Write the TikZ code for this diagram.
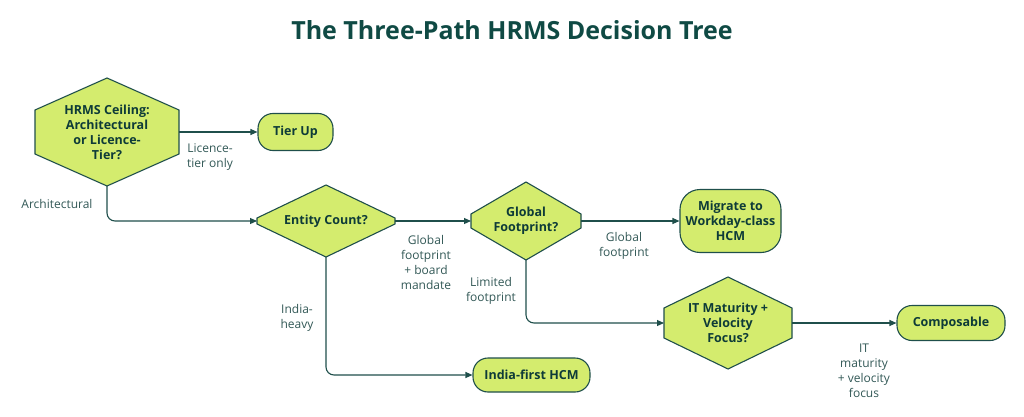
\documentclass[tikz,border=0pt]{standalone}
\usepackage{fontspec}
\setmainfont{Open Sans}
\usetikzlibrary{arrows.meta}
\definecolor{fillc}{HTML}{D4EC6E}
\definecolor{linec}{HTML}{1F4F4B}
\definecolor{txtc}{HTML}{0E3B38}
\definecolor{titlec}{HTML}{0F4A44}
\tikzset{
  shp/.style={draw=linec,fill=fillc,line width=1.1pt},
  ntext/.style={text=txtc,font=\fontsize{12.5}{15}\selectfont\bfseries,align=center},
  lab/.style={text=txtc!85,font=\fontsize{12}{15}\selectfont,align=center},
  conn/.style={draw=linec,line width=1.1pt,-{Triangle[length=7pt,width=6pt]},rounded corners=8pt},
  pill/.style={shp,rounded corners=15pt,ntext,inner sep=0pt}
}
% hexagon: name, cx, cy, halfw, halfh, side halfh, text
\newcommand{\hexnode}[7]{%
  \draw[shp] (#2-#4,#3-#6) -- (#2-#4,#3+#6) -- (#2,#3+#5) -- (#2+#4,#3+#6) -- (#2+#4,#3-#6) -- (#2,#3-#5) -- cycle;
  \node[ntext] (#1) at (#2,#3) {#7};
  \coordinate (#1-w) at (#2-#4,#3);
  \coordinate (#1-e) at (#2+#4,#3);
  \coordinate (#1-s) at (#2,#3+#5);
}
\begin{document}
\begin{tikzpicture}[x=1pt,y=-1pt]
\useasboundingbox (0,0) rectangle (1024,417);
\node[text=titlec,font=\fontsize{25}{30}\selectfont\bfseries] (title) at (512,30) {The Three-Path HRMS Decision Tree};
\hexnode{hr}{107}{132}{72}{54}{22}{HRMS Ceiling:\\Architectural\\or Licence-\\Tier?}
\hexnode{ec}{326}{221}{69}{36}{3}{Entity Count?}
\hexnode{gf}{526}{221}{55}{39}{7}{Global\\Footprint?}
\hexnode{it}{728}{323}{64}{46}{15}{IT Maturity +\\Velocity\\Focus?}
\node[pill,minimum width=75pt,minimum height=37pt] (tu) at (295.5,132) {Tier Up};
\node[pill,rounded corners=20pt,minimum width=101pt,minimum height=63pt] (mg) at (730.5,221) {Migrate to\\Workday-class\\HCM};
\node[pill,minimum width=117pt,minimum height=34pt] (in) at (531.5,375) {India-first HCM};
\node[pill,minimum width=108pt,minimum height=35pt] (cp) at (951,323) {Composable};
\draw[conn] (hr-e) -- (tu.west |- hr-e);
\draw[conn] (hr-s) |- (ec-w);
\draw[conn] (ec-e) -- (gf-w);
\draw[conn] (ec-s) |- (in);
\draw[conn] (gf-e) -- (mg.west |- gf-e);
\draw[conn] (gf-s) |- (it-w);
\draw[conn] (it-e) -- (cp.west |- it-e);
\node[lab] (l1) at (210,157) {Licence-\\tier only};
\node[lab] (l2) at (57,204) {Architectural};
\node[lab] (l3) at (426,262) {Global\\footprint\\+ board\\mandate};
\node[lab] (l4) at (297,318) {India-\\heavy};
\node[lab] (l5) at (624,246) {Global\\footprint};
\node[lab] (l6) at (491,291) {Limited\\footprint};
\node[lab] (l7) at (864,371) {IT\\maturity\\+ velocity\\focus};
\end{tikzpicture}
\end{document}
